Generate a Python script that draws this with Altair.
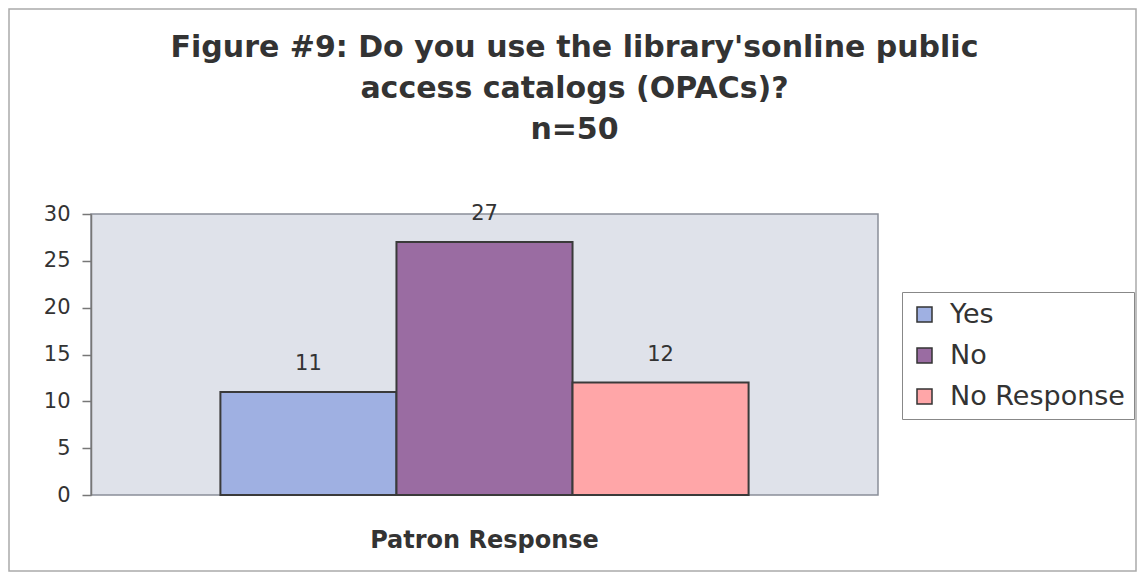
import altair as alt
import pandas as pd

categories = ["Yes", "No", "No Response"]
values = [11, 27, 12]
group = ["Patron Response"] * 3
colors = ["#9fb0e2", "#9a6ca2", "#ffa6a8"]

df = pd.DataFrame({"group": group, "answer": categories, "count": values})

FONT = "DejaVu Sans"

x = alt.X("group:N", title=None,
          scale=alt.Scale(paddingInner=0, paddingOuter=0.245),
          axis=alt.Axis(labelFont=FONT, labelFontSize=24, labelFontWeight="bold",
                        labelColor="#333333", labelAngle=0, ticks=False, domain=False,
                        labelPadding=33, labelLimit=0))
xo = alt.XOffset("answer:N", sort=categories,
                 scale=alt.Scale(paddingInner=0, paddingOuter=0))
y = alt.Y("count:Q", title=None,
          scale=alt.Scale(domain=[0, 30], nice=False),
          axis=alt.Axis(values=[0, 5, 10, 15, 20, 25, 30], grid=False, tickSize=9,
                        tickColor="#777777", domainColor="#777777", tickWidth=1.5,
                        domainWidth=1.5, labelFont=FONT, labelFontSize=21,
                        labelColor="#333333", labelPadding=12))

color = alt.Color("answer:N", sort=categories,
                  scale=alt.Scale(domain=categories, range=colors),
                  legend=alt.Legend(title=None, orient="none", legendX=811, legendY=78,
                                    labelFont=FONT, labelFontSize=27, labelColor="#333333",
                                    labelLimit=0,
                                    symbolType="square", symbolSize=225,
                                    symbolStrokeColor="#333333", symbolStrokeWidth=1.5,
                                    symbolOpacity=1,
                                    strokeColor="#888888", padding=9, rowPadding=13,
                                    labelOffset=12, fillColor="white"))

bars = alt.Chart(df).mark_bar(stroke="#3a3a3a", strokeWidth=2, opacity=1).encode(
    x=x, xOffset=xo, y=y, color=color)

labels = alt.Chart(df).mark_text(font=FONT, fontSize=21, color="#333333",
                                 baseline="middle", dy=-28).encode(
    x=x, xOffset=xo, y=y, text=alt.Text("count:Q"))

frame = alt.Chart(pd.DataFrame({"a": [0]})).mark_rect(
    fill="transparent", stroke="#aaaaaa", strokeWidth=1.5).encode(
    x=alt.value(-82), x2=alt.value(1045), y=alt.value(-205), y2=alt.value(357))

chart = alt.layer(frame, bars, labels).properties(
    width=787, height=281,
    background="white",
    title=alt.Title(["Figure #9: Do you use the library'sonline public",
                     "access catalogs (OPACs)?", "n=50"],
                    font=FONT, fontSize=30, fontWeight="bold", color="#333333",
                    lineHeight=41, anchor="middle", dx=90, offset=55, dy=192),
    padding={"left": 83, "top": 206, "right": 259, "bottom": 79},
    autosize=alt.AutoSizeParams(type="none"),
).configure_view(fill="#dfe2ea", stroke="#8a8f99", strokeWidth=1.5)

chart.save("out.html", embed_options={"renderer": "svg", "actions": False})
